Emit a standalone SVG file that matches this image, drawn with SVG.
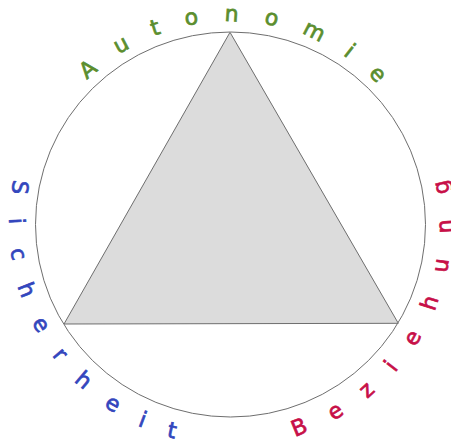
<svg xmlns="http://www.w3.org/2000/svg" width="451" height="445" viewBox="0 0 451 445">
<style>
.lbl{font-family:"DejaVu Sans","Liberation Sans",sans-serif;font-size:22px;stroke-width:0.7;}
.shape{stroke:#6e6e6e;stroke-width:1;}
</style>
<defs>
<path id="pTop" d="M 87.46 80.46 A 203 203 0 0 1 421.26 155.07" fill="none"/>
<path id="pLeft" d="M 14.09 179.68 A 221 221 0 0 0 268.88 442.14" fill="none"/>
<path id="pRight" d="M 294.74 435.95 A 221 221 0 0 0 421.89 114.0" fill="none"/>
</defs>
<rect width="451" height="445" fill="#ffffff"/>
<g id="circle">
<ellipse class="shape" cx="230.5" cy="224.5" rx="195" ry="192.5" fill="none"/>
</g>
<g id="triangle">
<polygon class="shape" points="230,32.3 64,324 398.3,323.3" fill="#dcdcdc"/>
</g>
<g id="label-autonomie">
<text class="lbl" fill="#5b8e2e" stroke="#5b8e2e" letter-spacing="25.3"><textPath href="#pTop">Autonomie</textPath></text>
</g>
<g id="label-sicherheit">
<text class="lbl" fill="#3346bd" stroke="#3346bd" letter-spacing="25"><textPath href="#pLeft">Sicherheit</textPath></text>
</g>
<g id="label-beziehung">
<text class="lbl" fill="#c70f48" stroke="#c70f48" letter-spacing="26.5"><textPath href="#pRight">Beziehung</textPath></text>
</g>
</svg>
